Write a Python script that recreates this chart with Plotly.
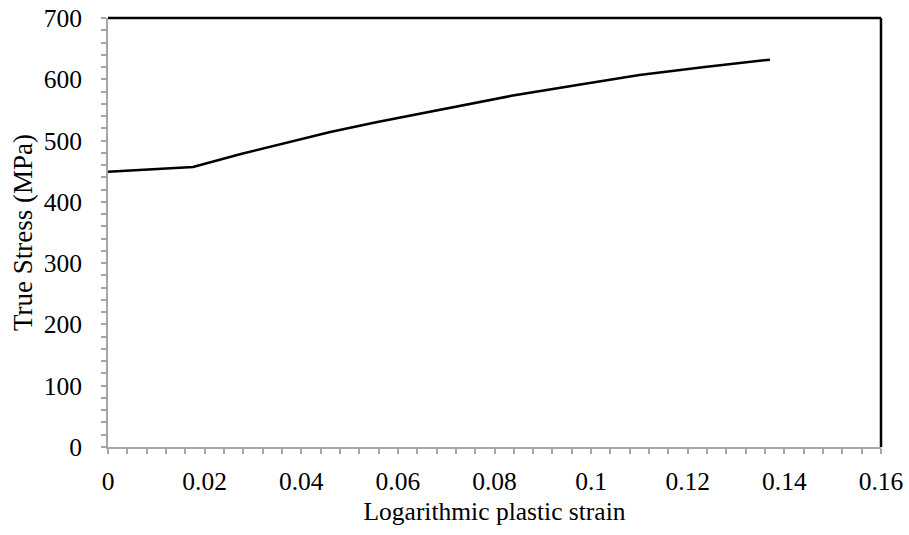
import plotly.graph_objects as go

strain = [0.0, 0.0176, 0.0275, 0.037, 0.046, 0.0555, 0.065, 0.074, 0.0835, 0.0965, 0.11, 0.1235, 0.137]
stress = [449, 457, 478, 496, 514, 530, 545, 558, 573, 590, 607, 620, 632]

x_ticks = [0, 0.02, 0.04, 0.06, 0.08, 0.1, 0.12, 0.14, 0.16]
x_tick_text = ["0", "0.02", "0.04", "0.06", "0.08", "0.1", "0.12", "0.14", "0.16"]
y_ticks = [0, 100, 200, 300, 400, 500, 600, 700]

font = "Liberation Serif"
axis_grey = "#a6a6a6"
fs = 25.5

fig = go.Figure()
fig.add_trace(go.Scatter(x=strain, y=stress, mode="lines",
                         line=dict(color="black", width=2.5), showlegend=False))

fig.update_layout(
    width=909, height=535,
    margin=dict(l=108, r=28, t=18, b=88, autoexpand=False),
    plot_bgcolor="white", paper_bgcolor="white",
    font=dict(family=font, size=fs, color="black"),
    xaxis=dict(
        range=[0, 0.16], tickvals=x_ticks, ticktext=x_tick_text, automargin=False,
        showgrid=False, zeroline=False, showline=True, linecolor=axis_grey, linewidth=2,
        ticks="outside", ticklen=5, tickcolor=axis_grey, tickwidth=1.5,
        minor=dict(ticks="outside", ticklen=5, dtick=0.004, tickcolor=axis_grey, tickwidth=1.5, showgrid=False),
        title=dict(text="Logarithmic plastic strain", font=dict(family=font, size=25.5), standoff=8),
        tickfont=dict(family=font, size=fs), ticklabelstandoff=5,
    ),
    yaxis=dict(
        range=[0, 700], tickvals=y_ticks, automargin=False,
        showgrid=False, zeroline=False, showline=True, linecolor=axis_grey, linewidth=2,
        ticks="outside", ticklen=5, tickcolor=axis_grey, tickwidth=1.5,
        minor=dict(ticks="outside", ticklen=5, dtick=20, tickcolor=axis_grey, tickwidth=1.5, showgrid=False),
        title=dict(text="True Stress (MPa)", font=dict(family=font, size=27), standoff=3),
        tickfont=dict(family=font, size=fs), ticklabelstandoff=14,
    ),
)
fig.add_shape(type="line", xref="paper", yref="paper", x0=0, x1=1, y0=1, y1=1,
              line=dict(color="black", width=2.5))
fig.add_shape(type="line", xref="paper", yref="paper", x0=1, x1=1, y0=0, y1=1,
              line=dict(color="black", width=2.5))

fig.write_html("out.html")
